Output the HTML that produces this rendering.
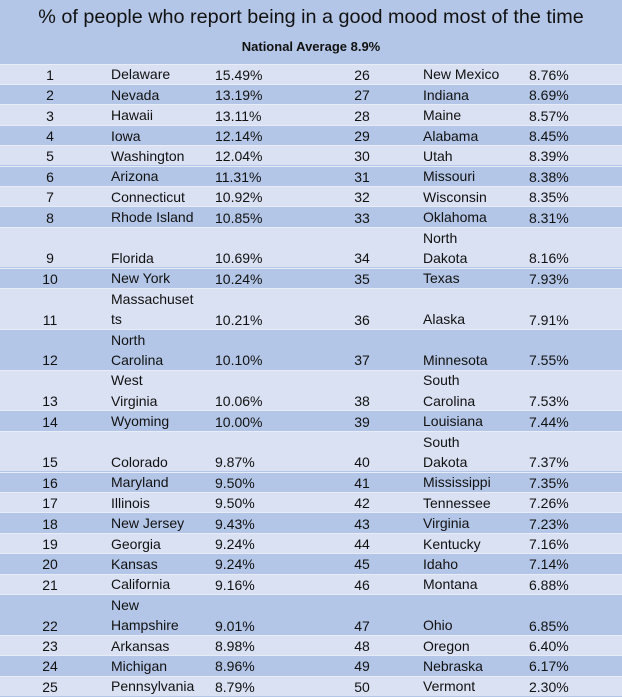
<!DOCTYPE html>
<html><head><meta charset="utf-8"><style>
body{margin:0;width:622px;height:697px;overflow:hidden;background:#b4c6e7;font-family:"Liberation Sans",sans-serif;color:#111;}
#t{position:absolute;left:0;top:0;width:622px;height:35px;text-align:center;font-size:19.8px;line-height:35px;}
#n{position:absolute;left:0;top:35px;width:622px;height:28px;text-align:center;font-size:13px;font-weight:bold;line-height:24px;}
.r{position:absolute;left:0;width:622px;border-top:1px solid #e8ecf7;box-sizing:border-box;font-size:14px;}
.r span{position:absolute;bottom:-1px;line-height:20px;}
.r .nm{line-height:20.4px;}
.o{background:#dae1f3}.e{background:#b4c6e7}
.a{width:40px;left:30px;text-align:center}.b{left:111px}.c{left:215px}
.d{width:40px;left:342px;text-align:center}.f{left:423px}.g{left:529px}
</style></head><body>
<div id="t">% of people who report being in a good mood most of the time</div>
<div id="n">National Average 8.9%</div>
<div id="rows"></div>
<script>
var d=[
[1,"Delaware","15.49",26,"New Mexico","8.76"],
[2,"Nevada","13.19",27,"Indiana","8.69"],
[3,"Hawaii","13.11",28,"Maine","8.57"],
[4,"Iowa","12.14",29,"Alabama","8.45"],
[5,"Washington","12.04",30,"Utah","8.39"],
[6,"Arizona","11.31",31,"Missouri","8.38"],
[7,"Connecticut","10.92",32,"Wisconsin","8.35"],
[8,"Rhode Island","10.85",33,"Oklahoma","8.31"],
[9,"Florida","10.69",34,"North<br>Dakota","8.16"],
[10,"New York","10.24",35,"Texas","7.93"],
[11,"Massachuset<br>ts","10.21",36,"Alaska","7.91"],
[12,"North<br>Carolina","10.10",37,"Minnesota","7.55"],
[13,"West<br>Virginia","10.06",38,"South<br>Carolina","7.53"],
[14,"Wyoming","10.00",39,"Louisiana","7.44"],
[15,"Colorado","9.87",40,"South<br>Dakota","7.37"],
[16,"Maryland","9.50",41,"Mississippi","7.35"],
[17,"Illinois","9.50",42,"Tennessee","7.26"],
[18,"New Jersey","9.43",43,"Virginia","7.23"],
[19,"Georgia","9.24",44,"Kentucky","7.16"],
[20,"Kansas","9.24",45,"Idaho","7.14"],
[21,"California","9.16",46,"Montana","6.88"],
[22,"New<br>Hampshire","9.01",47,"Ohio","6.85"],
[23,"Arkansas","8.98",48,"Oregon","6.40"],
[24,"Michigan","8.96",49,"Nebraska","6.17"],
[25,"Pennsylvania","8.79",50,"Vermont","2.30"]];
var y=63.5,h="";
d.forEach(function(r){var dbl=(r[1]+r[4]).indexOf("<br>")>=0;var hh=dbl?40.8:20.4;
h+='<div class="r '+(r[0]%2?'o':'e')+'" style="top:'+y.toFixed(1)+'px;height:'+hh+'px">'+
'<span class="a">'+r[0]+'</span><span class="b nm">'+r[1]+'</span><span class="c">'+r[2]+'%</span>'+
'<span class="d">'+r[3]+'</span><span class="f nm">'+r[4]+'</span><span class="g">'+r[5]+'%</span></div>';y+=hh;});
document.getElementById("rows").innerHTML=h;
</script>
</body></html>
